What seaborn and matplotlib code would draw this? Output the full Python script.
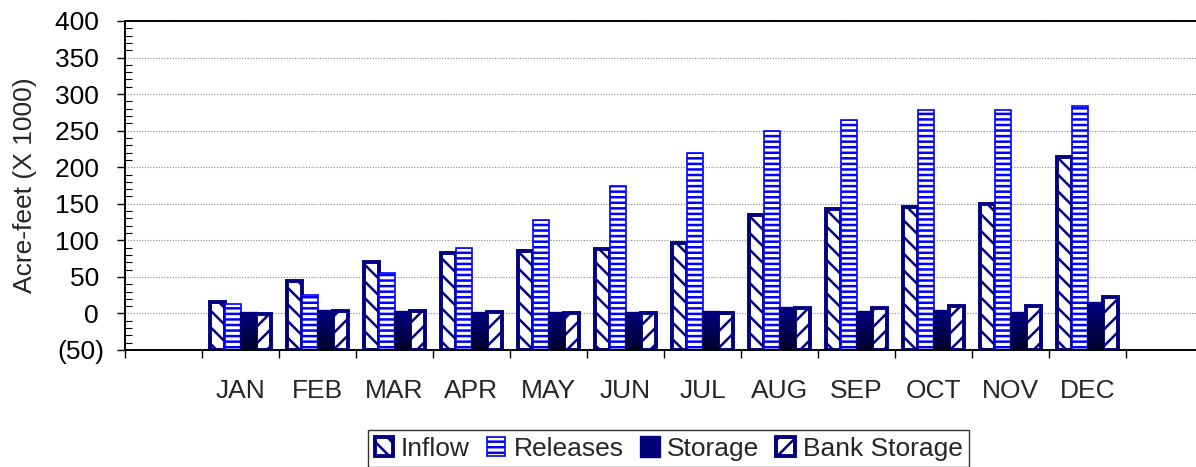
import numpy as np
import pandas as pd
import matplotlib
matplotlib.use("Agg")
import matplotlib.pyplot as plt
import matplotlib.ticker as mticker
import seaborn as sns

# valores (acre-feet x 1000)
months = ["JAN", "FEB", "MAR", "APR", "MAY", "JUN", "JUL", "AUG", "SEP", "OCT", "NOV", "DEC"]
inflow = [15, 44, 70, 82, 86, 88, 96, 134, 143, 146, 150, 214]
releases = [13, 25, 55, 89, 128, 175, 220, 250, 265, 278, 278, 284]
storage = [1, 4, 2, 1, 1, 1, 2, 8, 2, 3, 1, 14]
bank_storage = [-1, 3, 4, 2, 0, 0, 0, 7, 8, 10, 10, 22]
series_names = ["Inflow", "Releases", "Storage", "Bank Storage"]
y_min, y_max = -50, 400

df = pd.DataFrame({
    "month": months * 4,
    "series": np.repeat(series_names, len(months)),
    "value": inflow + releases + storage + bank_storage,
})

sns.set_theme(style="white")
plt.rcParams["font.family"] = ["Liberation Sans", "DejaVu Sans"]
plt.rcParams["hatch.linewidth"] = 1.8
fs = 19

fig = plt.figure(figsize=(11.96, 4.67), dpi=100)
ax = fig.add_axes([125 / 1196, 117 / 467, 1 - 125 / 1196, 329 / 467])

# slot vazio antes de JAN, como no original
order = [""] + months
sns.barplot(data=df, x="month", y="value", hue="series", order=order,
            hue_order=series_names, width=0.8, ax=ax, legend=False,
            errorbar=None, saturation=1)

navy = "#000080"
styles = {
    "Inflow": dict(facecolor="white", edgecolor=navy, hatch="\\\\", lw=2.8),
    "Releases": dict(facecolor="white", edgecolor="#0000FF", hatch="---", lw=1.2),
    "Storage": dict(facecolor="#000070", edgecolor=navy, hatch=None, lw=2.4),
    "Bank Storage": dict(facecolor="white", edgecolor=navy, hatch="//", lw=2.8),
}

# as barras do Excel partem do eixo em -50
grad = np.linspace(0, 1, 64).reshape(-1, 1)
dark = matplotlib.colors.LinearSegmentedColormap.from_list("st", ["#00002a", "#000080"])
for name, cont in zip(series_names, ax.containers):
    st = styles[name]
    for bar in cont:
        h = bar.get_height()
        bar.set_y(y_min)
        bar.set_height(h - y_min)
        bar.set_facecolor(st["facecolor"])
        bar.set_edgecolor(st["edgecolor"])
        bar.set_linewidth(st["lw"])
        if st["hatch"]:
            bar.set_hatch(st["hatch"])
        if name == "Storage":
            x0, w = bar.get_x(), bar.get_width()
            im = ax.imshow(grad, cmap=dark, aspect="auto", origin="lower",
                           extent=[x0, x0 + w, y_min, h], zorder=bar.get_zorder() + 0.1)
            im.set_clip_path(bar)

ax.set_xlim(-0.5, -0.5 + (1196 - 125) / 77)
ax.set_ylim(y_min, y_max)

# eixo y: negativos entre parênteses, dígitos alinhados
ax.yaxis.set_major_locator(mticker.MultipleLocator(50))
ax.yaxis.set_minor_locator(mticker.MultipleLocator(10))
ax.yaxis.set_major_formatter(mticker.FuncFormatter(
    lambda v, p: f"({abs(int(v))})" if v < 0 else f"{int(v)}\u2009"))
ax.tick_params(axis="y", which="major", direction="out", length=6, width=1,
               labelsize=fs, pad=9, colors="black", left=True)
ax.tick_params(axis="y", which="minor", direction="in", length=5, width=0.8,
               left=True, colors="black")
ax.set_ylabel("Acre-feet (X 1000)", fontsize=fs, labelpad=13)

# eixo x: marcas nas divisões, rótulos no centro
ax.set_xticks(np.arange(-0.5, 13.5, 1.0))
ax.set_xticklabels([])
ax.set_xticks(np.arange(1, 13), labels=months, minor=True)
ax.tick_params(axis="x", which="major", direction="out", length=6, width=1,
               bottom=True, colors="black")
ax.tick_params(axis="x", which="minor", length=0, pad=21, labelsize=fs)
ax.set_xlabel("")

ax.grid(axis="y", which="major", color="#888888", linestyle=(0, (1, 1.5)), lw=0.8)
ax.set_axisbelow(True)
for s in ["left", "bottom", "top"]:
    ax.spines[s].set_color("black")
    ax.spines[s].set_linewidth(1.4)
ax.spines["right"].set_visible(False)

handles = [c.patches[1] for c in ax.containers]
leg = fig.legend(handles, series_names, loc="upper left", bbox_to_anchor=(368 / 1196, 1 - 430 / 467),
                 ncol=4, fontsize=fs, frameon=True, fancybox=False, handlelength=0.7,
                 handleheight=0.7, handletextpad=0.3, columnspacing=0.65, borderpad=0.25,
                 borderaxespad=0)
leg.get_frame().set_edgecolor("black")
leg.get_frame().set_linewidth(1.0)

fig.savefig("out.png", dpi=100)
